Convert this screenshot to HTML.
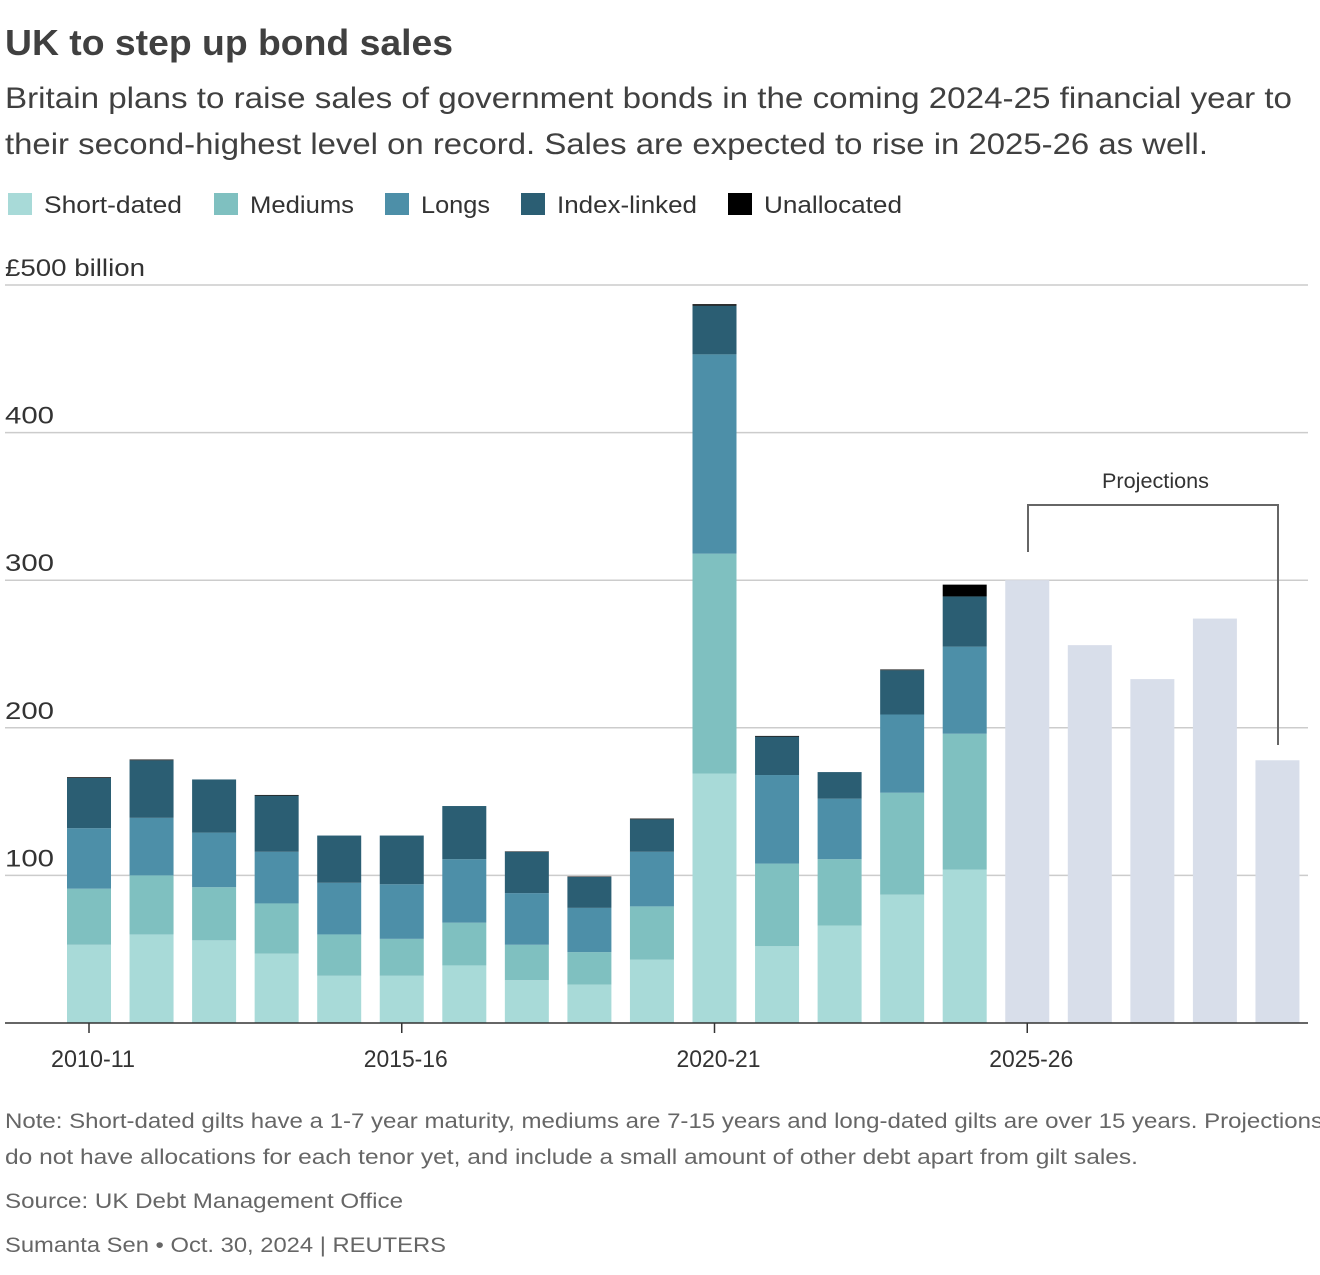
<!DOCTYPE html>
<html><head><meta charset="utf-8"><style>
body{margin:0;background:#fff;font-family:"Liberation Sans",sans-serif;}
svg text{font-family:"Liberation Sans",sans-serif;}
</style></head><body>
<svg id="chart" width="1320" height="1270" xmlns="http://www.w3.org/2000/svg">
<text x="5" y="55" font-size="36" font-weight="bold" fill="#404040" textLength="448" lengthAdjust="spacingAndGlyphs">UK to step up bond sales</text>
<text x="5" y="108" font-size="30" fill="#404040" textLength="1287" lengthAdjust="spacingAndGlyphs">Britain plans to raise sales of government bonds in the coming 2024-25 financial year to</text>
<text x="5" y="154" font-size="30" fill="#404040" textLength="1203" lengthAdjust="spacingAndGlyphs">their second-highest level on record. Sales are expected to rise in 2025-26 as well.</text>
<g id="legend"></g>
<text x="5" y="276" font-size="24" fill="#333" textLength="140" lengthAdjust="spacingAndGlyphs">£500 billion</text>
<g id="grid"></g><g id="bars"></g><g id="xaxis"></g>
<g fill="none" stroke="#666" stroke-width="2">
<polyline points="1028,552 1028,505 1278,505 1278,745"/></g>
<text x="1102" y="488" font-size="21" fill="#333" textLength="107" lengthAdjust="spacingAndGlyphs">Projections</text>
<text x="5" y="1128" font-size="21" fill="#666" textLength="1318" lengthAdjust="spacingAndGlyphs">Note: Short-dated gilts have a 1-7 year maturity, mediums are 7-15 years and long-dated gilts are over 15 years. Projections</text>
<text x="5" y="1164" font-size="21" fill="#666" textLength="1133" lengthAdjust="spacingAndGlyphs">do not have allocations for each tenor yet, and include a small amount of other debt apart from gilt sales.</text>
<text x="5" y="1208" font-size="21" fill="#666" textLength="398" lengthAdjust="spacingAndGlyphs">Source: UK Debt Management Office</text>
<text x="5" y="1252" font-size="21" fill="#666" textLength="441" lengthAdjust="spacingAndGlyphs">Sumanta Sen • Oct. 30, 2024 | REUTERS</text>
</svg>
<script>
const years=["2010-11","2011-12","2012-13","2013-14","2014-15","2015-16","2016-17","2017-18","2018-19","2019-20","2020-21","2021-22","2022-23","2023-24","2024-25","2025-26","2026-27","2027-28","2028-29","2029-30"];
const shortDated=[53,60,56,47,32,32,39,29,26,43,169,52,66,87,104];
const mediums=[38,40,36,34,28,25,29,24,22,36,149,56,45,69,92];
const longs=[41,39,37,35,35,37,43,35,30,37,135,60,41,53,59];
const indexLinked=[34,39,36,38,32,33,36,28,21,22,33,26,18,30,34];
const unallocated=[0.5,0.5,0,0.5,0,0,0,0.3,0.3,0.5,1,0.5,0,0.5,8];
const projections=[300,256,233,274,178];
const yTicks=[100,200,300,400,500];
const xTickLabels=["2010-11","2015-16","2020-21","2025-26"];
const ns="http://www.w3.org/2000/svg";
const y0=1023,yTop=285,x0=89,step=62.55,bw=44;
const Y=v=>y0-(y0-yTop)*v/500;
const X=i=>x0+i*step;
function mk(t,a,p){const e=document.createElementNS(ns,t);for(const k in a)e.setAttribute(k,a[k]);p.appendChild(e);return e;}
const grid=document.getElementById('grid');
yTicks.forEach(t=>{const l=mk('line',{x1:5,x2:1308,y1:Y(t),y2:Y(t),stroke:'#ccc','stroke-width':1.5},grid);


if(t<500){const tx=mk('text',{x:5,y:Y(t)-9,'font-size':24,fill:'#333',textLength:49,lengthAdjust:'spacingAndGlyphs'},grid);tx.textContent=t;

}});
const series=[["short-dated",shortDated,"#a8dad8"],["mediums",mediums,"#7fc0c0"],["longs",longs,"#4d8fa8"],["index-linked",indexLinked,"#2b5e73"],["unallocated",unallocated,"#000"]];
const bars=document.getElementById('bars');
shortDated.forEach((_,i)=>{let acc=0;series.forEach(s=>{const v=s[1][i];if(!v)return;
const r=mk('rect',{x:X(i)-bw/2,y:Y(acc+v),width:bw,height:Y(acc)-Y(acc+v),fill:s[2]},bars);

acc+=v;});});
projections.forEach((v,j)=>{const i=shortDated.length+j;
const r=mk('rect',{x:X(i)-bw/2,y:Y(v),width:bw,height:y0-Y(v),fill:'#d8deea'},bars);

});
const xa=document.getElementById('xaxis');
const ax=mk('line',{x1:5,x2:1308,y1:y0,y2:y0,stroke:'#333','stroke-width':1.5},xa);


xTickLabels.forEach(lb=>{const i=years.indexOf(lb);
mk('line',{x1:X(i),x2:X(i),y1:y0,y2:y0+10,stroke:'#333','stroke-width':1.5},xa);
const t=mk('text',{x:X(i)-38,y:1067,'font-size':24,fill:'#333',textLength:84,lengthAdjust:'spacingAndGlyphs'},xa);t.textContent=lb;

});
const lg=document.getElementById('legend');
const legendNames=["Short-dated","Mediums","Longs","Index-linked","Unallocated"];
const lx=[8,214,385,521,728];
const lw=[138,104,69,140,138];
legendNames.forEach((n,k)=>{const g=mk('g',{},lg);


mk('rect',{x:lx[k],y:193,width:24,height:22,fill:series[k][2]},g);
const t=mk('text',{x:lx[k]+36,y:213,'font-size':24,fill:'#333',textLength:lw[k],lengthAdjust:'spacingAndGlyphs'},g);t.textContent=n;});
</script>
</body></html>
